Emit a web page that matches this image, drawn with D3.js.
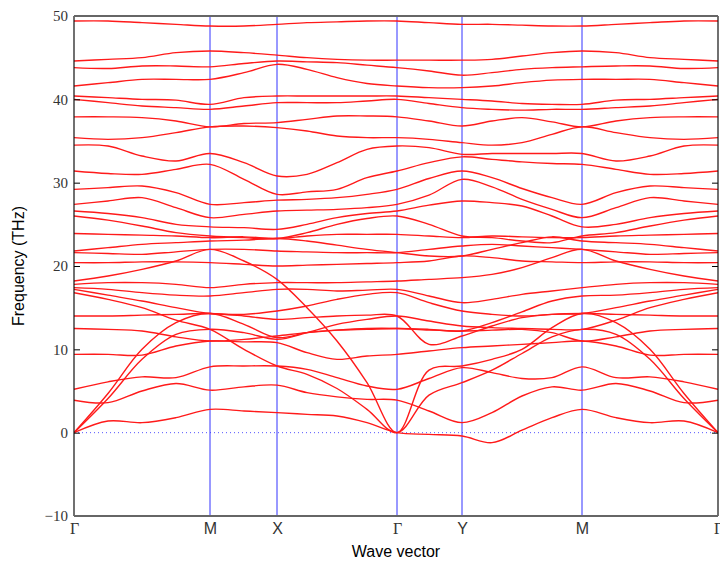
<!DOCTYPE html>
<html>
<head>
<meta charset="utf-8">
<style>
  body { margin: 0; background: #fff; }
  .band { fill: none; stroke: #ff1a1a; stroke-width: 1.4px; }
  .sym { stroke: #3333ff; stroke-width: 1px; }
  .tick text { font-family: "Liberation Serif", "DejaVu Serif", serif; font-size: 15px; fill: #333; }
</style>
</head>
<body>
<script src="https://d3js.org/d3.v7.min.js"></script>
<script>
// path coordinate of every sampled wave vector
var kSamples = [0, 0.34, 0.68, 1.02, 1.36, 1.70, 2.03, 2.33, 2.63, 2.93, 3.23,
                3.55, 3.88, 4.18, 4.48, 4.78, 5.08, 5.42, 5.76, 6.10, 6.44];
var symPos = [0, 1.36, 2.03, 3.23, 3.88, 5.08, 6.44];
var symLabels = ["Γ", "M", "X", "Γ", "Y", "M", "Γ"];
var yTicks = [-10, 0, 10, 20, 30, 40, 50];

// phonon branches (THz), one value per k sample
var band01 = [49.4, 49.4, 49.2, 49.0, 48.8, 48.8, 49.0, 49.2, 49.3, 49.4, 49.4, 49.2, 49.0, 49.0, 48.9, 48.8, 48.8, 49.0, 49.2, 49.4, 49.4];
var band02 = [44.6, 44.8, 45.0, 45.6, 45.8, 45.6, 45.3, 45.0, 44.8, 44.7, 44.7, 44.7, 44.7, 44.8, 45.2, 45.6, 45.8, 45.6, 45.0, 44.8, 44.6];
var band03 = [43.8, 43.7, 44.0, 44.0, 43.9, 44.3, 44.6, 44.5, 44.4, 44.1, 43.8, 43.4, 42.9, 43.2, 43.6, 43.8, 43.9, 44.0, 44.0, 43.7, 43.8];
var band04 = [41.6, 42.0, 42.4, 42.4, 42.4, 43.2, 44.2, 43.6, 42.6, 41.9, 41.6, 41.4, 41.4, 41.6, 42.0, 42.3, 42.4, 42.4, 42.4, 42.0, 41.6];
var band05 = [40.4, 40.2, 40.0, 39.9, 39.4, 40.2, 40.4, 40.4, 40.4, 40.4, 40.4, 40.2, 40.0, 39.8, 39.5, 39.4, 39.4, 39.9, 40.0, 40.2, 40.4];
var band06 = [40.0, 39.6, 39.2, 39.0, 38.8, 39.2, 39.6, 39.6, 39.6, 39.8, 40.0, 39.5, 39.0, 38.8, 38.7, 38.8, 38.8, 39.0, 39.2, 39.6, 40.0];
var band07 = [37.9, 37.9, 37.8, 37.4, 36.7, 37.1, 37.2, 37.6, 38.0, 38.0, 37.9, 37.4, 36.8, 37.4, 37.8, 37.3, 36.7, 37.4, 37.8, 37.9, 37.9];
var band08 = [35.4, 35.2, 35.4, 36.0, 36.7, 36.8, 36.6, 36.2, 35.6, 35.4, 35.4, 35.2, 34.8, 34.5, 34.8, 35.8, 36.7, 36.0, 35.4, 35.2, 35.4];
var band09 = [34.5, 34.4, 33.2, 32.6, 33.5, 32.4, 30.8, 31.0, 32.4, 34.0, 34.4, 34.2, 33.4, 33.5, 33.5, 33.5, 33.5, 32.6, 33.2, 34.4, 34.5];
var band10 = [31.4, 31.1, 31.0, 31.6, 32.2, 30.4, 28.6, 28.9, 29.2, 30.6, 31.4, 32.4, 33.1, 32.8, 32.5, 32.3, 32.2, 31.6, 31.0, 31.1, 31.4];
var band11 = [29.2, 29.4, 29.6, 28.8, 27.4, 27.6, 27.9, 28.0, 28.2, 28.6, 29.2, 30.5, 31.4, 30.6, 29.3, 28.2, 27.4, 28.8, 29.6, 29.4, 29.2];
var band12 = [27.4, 27.8, 28.2, 27.0, 25.8, 26.2, 26.6, 26.7, 26.8, 27.0, 27.4, 28.5, 30.4, 29.5, 28.0, 26.8, 25.8, 27.0, 28.2, 27.8, 27.4];
var band13 = [26.6, 26.3, 25.8, 25.0, 24.7, 24.6, 24.4, 25.0, 25.8, 26.3, 26.6, 27.3, 27.8, 27.6, 27.2, 26.0, 24.7, 25.0, 25.8, 26.3, 26.6];
var band14 = [26.0, 25.5, 24.8, 24.0, 23.6, 23.4, 23.3, 24.0, 25.0, 25.7, 26.0, 25.0, 23.6, 23.4, 23.0, 22.8, 23.6, 24.0, 24.8, 25.5, 26.0];
var band15 = [23.9, 23.8, 23.7, 23.6, 23.4, 23.5, 23.3, 23.6, 23.8, 23.8, 23.8, 23.6, 23.4, 23.6, 23.5, 23.4, 23.4, 23.6, 23.7, 23.8, 23.9];
var band16 = [21.8, 22.2, 22.6, 22.8, 23.0, 23.1, 23.3, 23.0, 22.5, 22.0, 21.6, 21.2, 21.2, 22.0, 22.8, 23.5, 23.0, 22.8, 22.6, 22.2, 21.8];
var band17 = [21.6, 21.5, 21.4, 21.7, 22.0, 22.0, 21.8, 21.7, 21.6, 21.6, 21.6, 22.0, 22.4, 22.6, 22.4, 22.2, 22.0, 21.7, 21.4, 21.5, 21.6];
var band18 = [20.4, 20.4, 20.5, 20.5, 20.4, 20.2, 20.0, 20.1, 20.2, 20.3, 20.4, 20.6, 21.2, 21.0, 20.6, 20.5, 20.4, 20.5, 20.5, 20.4, 20.4];
var band19 = [18.2, 18.8, 19.6, 20.6, 22.0, 20.6, 18.4, 15.0, 11.0, 6.0, 0, 7.5, 8.0, 8.8, 10.0, 12.6, 14.3, 13.2, 10.0, 4.7, 0];
var band20 = [17.8, 18.0, 18.0, 17.8, 17.4, 17.8, 18.0, 18.0, 18.0, 18.1, 18.2, 18.4, 18.6, 19.0, 19.8, 21.0, 22.0, 20.6, 19.6, 18.8, 18.2];
var band21 = [17.4, 17.2, 16.8, 16.5, 16.4, 16.8, 17.2, 17.2, 17.0, 17.1, 17.2, 16.4, 15.6, 16.0, 16.6, 17.0, 17.4, 17.8, 18.0, 18.0, 17.8];
var band22 = [17.2, 16.5, 15.8, 15.0, 14.3, 14.2, 14.6, 15.2, 16.0, 16.6, 16.8, 15.6, 14.6, 14.2, 14.0, 14.2, 14.3, 15.0, 15.8, 16.5, 17.2];
var band23 = [16.8, 16.0, 15.0, 13.5, 12.4, 10.0, 8.0, 7.0, 5.3, 2.8, 0, 4.5, 6.0, 7.5, 9.5, 11.5, 12.4, 11.8, 8.8, 4.1, 0];
var band24 = [14.0, 14.0, 14.1, 14.2, 14.3, 14.0, 13.6, 13.8, 14.0, 14.1, 14.0, 10.6, 11.6, 12.8, 13.8, 14.2, 14.3, 14.2, 14.1, 14.0, 14.0];
var band25 = [12.5, 12.4, 12.2, 11.5, 11.0, 11.2, 11.6, 12.0, 12.3, 12.5, 12.5, 12.3, 12.2, 12.3, 12.4, 12.0, 11.0, 11.5, 12.2, 12.4, 12.5];
var band26 = [9.4, 9.4, 9.3, 10.4, 11.0, 10.9, 10.8, 9.6, 8.8, 9.2, 9.4, 9.8, 10.2, 10.4, 10.6, 10.8, 11.0, 10.4, 9.3, 9.4, 9.4];
var band27 = [5.2, 6.1, 6.7, 6.6, 7.9, 8.0, 8.0, 7.6, 6.6, 5.6, 5.2, 6.5, 7.8, 7.2, 6.5, 6.6, 7.9, 6.6, 6.7, 6.1, 5.2];
var band28 = [3.9, 3.6, 5.0, 5.9, 5.1, 5.5, 5.7, 4.8, 4.3, 4.0, 3.9, 2.6, 1.2, 2.4, 4.4, 5.5, 5.1, 5.9, 5.0, 3.6, 3.9];
var band29 = [0, 4.7, 10.0, 13.2, 14.3, 13.0, 11.4, 12.0, 12.3, 12.4, 12.5, 12.4, 12.2, 13.2, 14.5, 15.8, 16.4, 16.5, 16.8, 17.2, 17.4];
var band30 = [0, 4.1, 8.8, 11.8, 12.4, 12.0, 11.2, 12.0, 13.0, 13.6, 14.0, 13.4, 12.8, 12.6, 12.5, 12.4, 12.4, 13.5, 15.0, 16.0, 16.8];
var band31 = [0, 1.4, 1.2, 1.8, 2.8, 2.6, 2.4, 2.2, 2.0, 1.2, 0, -0.2, -0.4, -1.2, 0.3, 1.8, 2.8, 1.8, 1.2, 1.4, 0];

var bands = [band01, band02, band03, band04, band05, band06, band07, band08, band09, band10,
             band11, band12, band13, band14, band15, band16, band17, band18, band19, band20,
             band21, band22, band23, band24, band25, band26, band27, band28, band29, band30, band31];

var width = 720, height = 567;
var margin = {top: 16, right: 2, bottom: 51, left: 74};

var svg = d3.select("body").append("svg")
    .attr("width", width)
    .attr("height", height);

var x = d3.scaleLinear().domain([0, 6.44]).range([margin.left, width - margin.right]);
var y = d3.scaleLinear().domain([-10, 50]).range([height - margin.bottom, margin.top]);

svg.append("clipPath").attr("id", "plotclip").append("rect")
    .attr("x", x(0)).attr("y", y(50))
    .attr("width", x(6.44) - x(0)).attr("height", y(-10) - y(50));

// zero line
svg.append("line")
    .attr("x1", x(0)).attr("x2", x(6.44))
    .attr("y1", y(0)).attr("y2", y(0))
    .attr("stroke", "#5555ff").attr("stroke-width", 1)
    .attr("stroke-dasharray", "1,3");

// high symmetry verticals
svg.selectAll(".sym").data(symPos.slice(1, -1)).enter().append("line")
    .attr("class", "sym")
    .attr("x1", function(d) { return x(d); }).attr("x2", function(d) { return x(d); })
    .attr("y1", y(50)).attr("y2", y(-10));

var line = d3.line()
    .x(function(d, i) { return x(kSamples[i]); })
    .y(function(d) { return y(d); })
    .curve(d3.curveCatmullRom.alpha(0.5));

svg.append("g").attr("clip-path", "url(#plotclip)")
  .selectAll(".band").data(bands).enter().append("path")
    .attr("class", "band")
    .attr("d", line);

// axes
var yAxis = svg.append("g").attr("class", "tick")
    .attr("transform", "translate(" + x(0) + ",0)")
    .call(d3.axisLeft(y).tickValues(yTicks).tickSize(-6).tickPadding(6)
      .tickFormat(function(d) { return d < 0 ? "\u2212" + Math.abs(d) : d; }));
yAxis.select(".domain").remove();
yAxis.selectAll("line").attr("stroke", "#000");

var yAxisR = svg.append("g")
    .attr("transform", "translate(" + x(6.44) + ",0)")
    .call(d3.axisRight(y).tickValues(yTicks).tickSize(-6).tickFormat(""));
yAxisR.select(".domain").remove();

var xAxis = svg.append("g")
    .attr("transform", "translate(0," + y(-10) + ")")
    .call(d3.axisBottom(x).tickValues(symPos).tickSize(0).tickPadding(7)
      .tickFormat(function(d, i) { return symLabels[i]; }));
xAxis.select(".domain").remove();
xAxis.selectAll("text")
    .style("font-family", function(d, i) { return symLabels[i] == "Γ" ? "'Liberation Serif', serif" : "'Liberation Sans', Arial, sans-serif"; })
    .style("font-size", "16px").attr("fill", "#111");

// frame: black sides, grey top and bottom
svg.append("line")
    .attr("x1", x(0)).attr("x2", x(0)).attr("y1", y(50)).attr("y2", y(-10))
    .attr("stroke", "#111").attr("stroke-width", 1.2);
svg.append("line")
    .attr("x1", x(6.44)).attr("x2", x(6.44)).attr("y1", y(50)).attr("y2", y(-10))
    .attr("stroke", "#111").attr("stroke-width", 1.2);
svg.append("line")
    .attr("x1", x(0)).attr("x2", x(6.44)).attr("y1", y(50)).attr("y2", y(50))
    .attr("stroke", "#666").attr("stroke-width", 2);
svg.append("line")
    .attr("x1", x(0)).attr("x2", x(6.44)).attr("y1", y(-10)).attr("y2", y(-10))
    .attr("stroke", "#666").attr("stroke-width", 2);

svg.append("text")
    .attr("x", (x(0) + x(6.44)) / 2).attr("y", 557)
    .attr("text-anchor", "middle")
    .style("font-family", "'Liberation Sans', Arial, sans-serif").style("font-size", "16px")
    .text("Wave vector");

svg.append("text")
    .attr("transform", "translate(24," + y(20) + ") rotate(-90)")
    .attr("text-anchor", "middle")
    .style("font-family", "'Liberation Sans', Arial, sans-serif").style("font-size", "16px")
    .text("Frequency (THz)");
</script>
</body>
</html>
